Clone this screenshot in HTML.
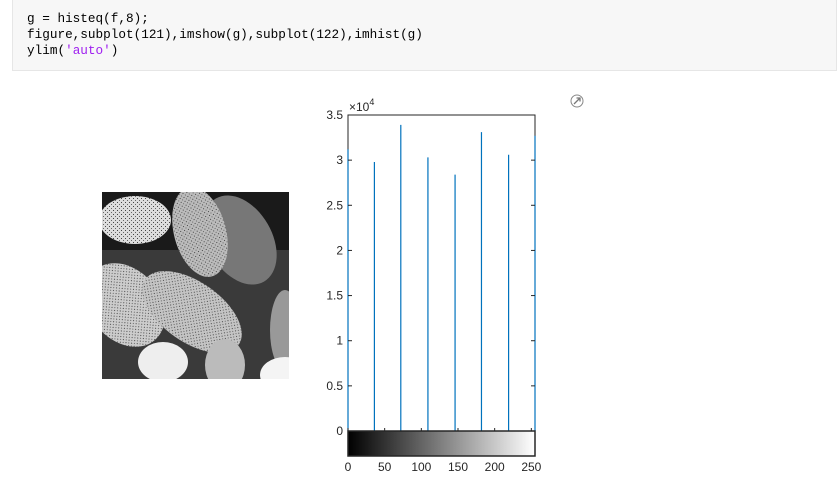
<!DOCTYPE html>
<html><head><meta charset="utf-8"><style>
body{margin:0;width:837px;height:498px;background:#fff;overflow:hidden;position:relative;font-family:"Liberation Sans",sans-serif}
#code{position:absolute;left:12px;top:0;width:825px;height:71px;background:#f7f7f7;border:1px solid #e6e6e6;border-top:none;box-sizing:border-box;font-family:"Liberation Mono","DejaVu Sans Mono",monospace;font-size:12.7px;line-height:16px;padding:11px 0 0 14px;color:#000;white-space:pre}
.str{color:#a020f0}
</style></head><body>
<div id="code"><div>g = histeq(f,8);</div><div>figure,subplot(121),imshow(g),subplot(122),imhist(g)</div><div>ylim(<span class="str">'auto'</span>)</div></div>

<svg width="837" height="498" style="position:absolute;left:0;top:0">
 <g>
  <circle cx="577" cy="101" r="6" fill="none" stroke="#888" stroke-width="1"/>
  <path d="M574 104 L580 98 M576.5 98 L580 98 L580 101.5" stroke="#777" stroke-width="1.3" fill="none"/>
 </g>
 <g>
  <defs>
   <pattern id="spk" width="4" height="4" patternUnits="userSpaceOnUse"><rect width="4" height="4" fill="none"/><rect x="1" y="2" width="1" height="1" fill="#444"/><rect x="3" y="0" width="1" height="1" fill="#666"/></pattern>
   <clipPath id="imgclip"><rect x="102" y="192" width="187" height="187"/></clipPath>
  </defs>
  <g clip-path="url(#imgclip)">
   <rect x="102" y="192" width="187" height="187" fill="#1a1a1a"/>
   <rect x="102" y="250" width="187" height="129" fill="#3a3a3a"/>
   <ellipse cx="240" cy="240" rx="32" ry="48" fill="#777" transform="rotate(-30 240 240)"/>
   <ellipse cx="135" cy="220" rx="36" ry="24" fill="#ddd"/>
   <ellipse cx="135" cy="220" rx="36" ry="24" fill="url(#spk)"/>
   <ellipse cx="200" cy="232" rx="26" ry="46" fill="#bbb" transform="rotate(-15 200 232)"/>
   <ellipse cx="200" cy="232" rx="26" ry="46" fill="url(#spk)" transform="rotate(-15 200 232)"/>
   <ellipse cx="125" cy="305" rx="35" ry="46" fill="#ccc" transform="rotate(-40 125 305)"/>
   <ellipse cx="125" cy="305" rx="35" ry="46" fill="url(#spk)" transform="rotate(-40 125 305)"/>
   <ellipse cx="192" cy="312" rx="30" ry="57" fill="#c4c4c4" transform="rotate(-55 192 312)"/>
   <ellipse cx="192" cy="312" rx="30" ry="57" fill="url(#spk)" transform="rotate(-55 192 312)"/>
   <ellipse cx="163" cy="362" rx="25" ry="20" fill="#eee"/>
   <ellipse cx="225" cy="365" rx="20" ry="26" fill="#bbb"/>
   <ellipse cx="285" cy="330" rx="15" ry="40" fill="#999"/>
   <ellipse cx="285" cy="375" rx="25" ry="18" fill="#f4f4f4"/>
  </g>
 </g>
 <defs><linearGradient id="gbar" x1="0" x2="1"><stop offset="0" stop-color="#000"/><stop offset="1" stop-color="#fff"/></linearGradient></defs>
 <g id="chart"></g>
</svg>
<script>
const binCenters=[0,36,72,109,146,182,219,255];
const counts=[31200,29800,33900,30300,28400,33100,30600,32700];
const yTicks=[0,0.5,1,1.5,2,2.5,3,3.5];
const yTickLabels=["0","0.5","1","1.5","2","2.5","3","3.5"];
const xTicks=[0,50,100,150,200,250];
const NS="http://www.w3.org/2000/svg";
const L=348,R=535,T=115,B=431;
const xs=v=>L+(v/255)*(R-L);
const ys=v=>B-(v/35000)*(B-T);
const g=document.getElementById('chart');
function mk(tag,attrs){const e=document.createElementNS(NS,tag);for(const k in attrs)e.setAttribute(k,attrs[k]);g.appendChild(e);return e;}
const frame=mk('rect',{x:L,y:T,width:R-L,height:B-T,fill:'#fff',stroke:'#262626','stroke-width':1});


counts.forEach((c,i)=>{
 const b=mk('line',{x1:xs(binCenters[i]),x2:xs(binCenters[i]),y1:B,y2:ys(c),stroke:'#0072bd','stroke-width':1.2});
 
 
});
yTicks.forEach((t,i)=>{
 const y=ys(t*10000);
 mk('line',{x1:L,x2:L+4,y1:y,y2:y,stroke:'#262626'});
 mk('line',{x1:R,x2:R-4,y1:y,y2:y,stroke:'#262626'});
 const tx=mk('text',{x:L-5,y:y+4,'text-anchor':'end','font-size':12,fill:'#262626'});
 tx.textContent=yTickLabels[i];
 
 
});
const ex=mk('text',{x:L+1,y:T-4,'font-size':12,fill:'#262626'});
ex.innerHTML='×10<tspan dy="-6" font-size="9">4</tspan>';


const gb=mk('rect',{x:L,y:B,width:R-L,height:25,fill:'url(#gbar)',stroke:'#262626','stroke-width':1.5});


xTicks.forEach(t=>{
 const x=xs(t);
 mk('line',{x1:x,x2:x,y1:B,y2:B-3,stroke:'#262626'});
 const tx=mk('text',{x:x,y:471,'text-anchor':'middle','font-size':12,fill:'#262626'});
 tx.textContent=t;
 
 
});
</script>
</body></html>
